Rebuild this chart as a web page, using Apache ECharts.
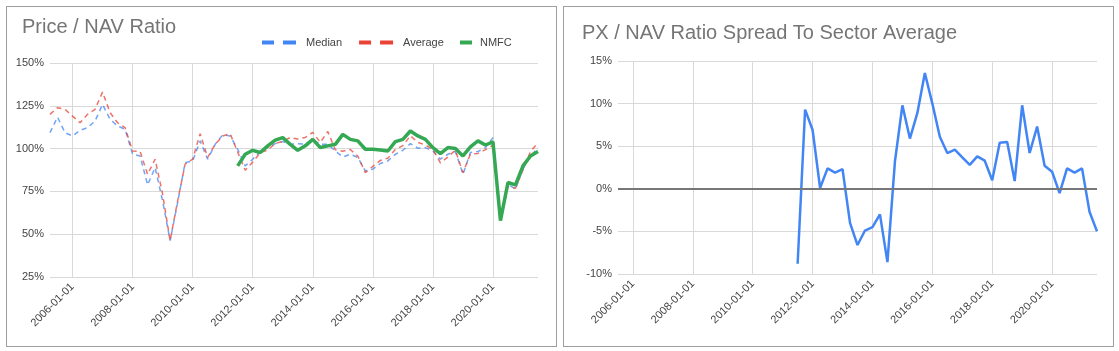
<!DOCTYPE html>
<html>
<head>
<meta charset="utf-8">
<script src="https://cdn.jsdelivr.net/npm/echarts@6/dist/echarts.min.js"></script>
<style>
  body { margin: 0; background: #fff; width: 1119px; height: 351px; overflow: hidden; }
  .panel { position: absolute; top: 6px; width: 551px; height: 341px; border: 1px solid #9e9e9e; box-sizing: border-box; }
  #leftPanel { left: 6px; }
  #rightPanel { left: 563px; }
  .chart { width: 549px; height: 339px; }
</style>
</head>
<body>
<div class="panel" id="leftPanel"><div class="chart" id="chartRatio"></div></div>
<div class="panel" id="rightPanel"><div class="chart" id="chartSpread"></div></div>
<script>
// quarterly dates
const dates = [
  '2005-04-01', '2005-07-01', '2005-10-01',
  '2006-01-01', '2006-04-01', '2006-07-01', '2006-10-01',
  '2007-01-01', '2007-04-01', '2007-07-01', '2007-10-01',
  '2008-01-01', '2008-04-01', '2008-07-01', '2008-10-01',
  '2009-01-01', '2009-04-01', '2009-07-01', '2009-10-01',
  '2010-01-01', '2010-04-01', '2010-07-01', '2010-10-01',
  '2011-01-01', '2011-04-01', '2011-07-01', '2011-10-01',
  '2012-01-01', '2012-04-01', '2012-07-01', '2012-10-01',
  '2013-01-01', '2013-04-01', '2013-07-01', '2013-10-01',
  '2014-01-01', '2014-04-01', '2014-07-01', '2014-10-01',
  '2015-01-01', '2015-04-01', '2015-07-01', '2015-10-01',
  '2016-01-01', '2016-04-01', '2016-07-01', '2016-10-01',
  '2017-01-01', '2017-04-01', '2017-07-01', '2017-10-01',
  '2018-01-01', '2018-04-01', '2018-07-01', '2018-10-01',
  '2019-01-01', '2019-04-01', '2019-07-01', '2019-10-01',
  '2020-01-01', '2020-04-01', '2020-07-01', '2020-10-01',
  '2021-01-01', '2021-04-01', '2021-07-01'
]
const tickLabels = ['2006-01-01', '2008-01-01', '2010-01-01', '2012-01-01', '2014-01-01', '2016-01-01', '2018-01-01', '2020-01-01']

// Price / NAV, in %
const median = [
  109.3, 118.4, 109.3,
  107.4, 110.7, 112.2, 116.1,
  125.8, 117.1, 113.2, 111.3,
  96.7, 95.7, 78.8, 88.9,
  69.5, 46.2, 68.5, 91.8,
  92.8, 104.5, 93.8, 102.5,
  108.0, 107.4, 99.6, 89.9,
  93.8, 98.3, 100.6, 102.9,
  104.1, 102.5, 102.9, 102.5,
  105.4, 102.5, 102.5, 98.6,
  95.1, 96.7, 94.8, 87.0,
  88.0, 91.3, 92.8, 96.7,
  99.0, 102.9, 100.2, 100.6,
  98.6, 93.8, 96.7, 98.3,
  85.0, 97.7, 98.3, 100.6,
  106.4, 58.5, 79.2, 76.3,
  88.0, 95.7, 100.6
]
const average = [
  120.0, 123.9, 122.9,
  119.0, 115.1, 120.0, 122.9,
  133.0, 121.0, 115.1, 112.2,
  98.6, 98.3, 85.0, 93.8,
  73.4, 46.2, 69.5, 90.9,
  93.8, 108.7, 94.8, 102.5,
  107.4, 108.7, 98.0, 87.4,
  92.1, 97.6, 99.2, 103.0,
  104.1, 106.5, 105.6, 106.5,
  109.5, 103.6, 110.0, 99.3,
  98.5, 99.5, 95.6, 86.0,
  89.6, 93.1, 94.4, 99.5,
  101.7, 107.5, 103.6, 102.1,
  99.5, 91.7, 95.1, 99.1,
  85.9, 96.8, 97.2, 99.4,
  101.9, 58.4, 77.8, 76.9,
  87.5, 98.4, 103.3
]
const nmfc = [
  null, null, null,
  null, null, null, null,
  null, null, null, null,
  null, null, null, null,
  null, null, null, null,
  null, null, null, null,
  null, null, 89.9, 96.7,
  99.0, 97.7, 101.6, 104.9,
  106.4, 102.5, 99.0, 101.6,
  105.4, 100.6, 101.6, 102.5,
  108.3, 105.4, 104.5, 99.6,
  99.6, 99.2, 98.6, 104.1,
  105.4, 110.3, 107.4, 105.4,
  100.6, 97.1, 100.6, 100.0,
  95.7, 101.0, 104.5, 102.1,
  103.9, 57.9, 80.2, 78.8,
  89.9, 95.7, 98.3
]

// spread chart starts one quarter later (2005-07-01)
const spreadDates = dates.slice(1)
const spread = [
  null, null,
  null, null, null, null,
  null, null, null, null,
  null, null, null, null,
  null, null, null, null,
  null, null, null, null,
  null, null, -8.8, 9.3,
  6.9, 0.1, 2.4, 1.9,
  2.3, -4.0, -6.6, -4.9,
  -4.5, -3.0, -8.6, 3.2,
  9.8, 5.9, 8.9, 13.6,
  10.0, 6.1, 4.2, 4.6,
  3.7, 2.8, 3.8, 3.3,
  1.0, 5.4, 5.5, 0.9,
  9.8, 4.2, 7.3, 2.7,
  2.0, -0.5, 2.4, 1.9,
  2.4, -2.7, -5.0
]

const fontFamily = 'Arial, "Liberation Sans", sans-serif'
const showTick = function (index, value) {
  return tickLabels.indexOf(value) !== -1
}

function xAxisFor (cats) {
  return {
    type: 'category',
    data: cats,
    boundaryGap: false,
    axisLine: { show: false },
    axisTick: { show: false },
    axisLabel: {
      interval: showTick,
      rotate: 45,
      margin: 8,
      color: '#444',
      fontSize: 11,
      fontFamily: fontFamily
    },
    splitLine: {
      show: true,
      interval: showTick,
      lineStyle: { color: '#d9d9d9', width: 1 }
    }
  }
}

function yAxisFor (min, max, step) {
  return {
    type: 'value',
    min: min,
    max: max,
    interval: step,
    axisLine: { show: false },
    axisTick: { show: false },
    axisLabel: {
      formatter: '{value}%',
      margin: 6,
      color: '#444',
      fontSize: 11,
      fontFamily: fontFamily
    },
    splitLine: { lineStyle: { color: '#d9d9d9', width: 1 } }
  }
}

const dashIcon = 'path://M0,0h12v4h-12z M21,0h13v4h-13z'

let chartRatio = echarts.init(document.getElementById('chartRatio'))
chartRatio.setOption({
  animation: false,
  title: {
    text: 'Price / NAV Ratio',
    left: 15,
    top: 10,
    padding: 0,
    textStyle: { color: '#757575', fontSize: 20, fontWeight: 'normal', fontFamily: fontFamily }
  },
  legend: [
    {
      data: [{ name: 'Median', icon: dashIcon }, { name: 'Average', icon: dashIcon }],
      left: 255,
      top: 30,
      padding: 0,
      itemWidth: 34,
      itemHeight: 4,
      itemGap: 17,
      itemStyle: { borderWidth: 0 },
      textStyle: { color: '#444', fontSize: 11, fontFamily: fontFamily, padding: [0, 0, 0, 5] }
    },
    {
      data: [{ name: 'NMFC', icon: 'rect' }],
      left: 453,
      top: 30,
      padding: 0,
      itemWidth: 12,
      itemHeight: 4,
      itemStyle: { borderWidth: 0 },
      textStyle: { color: '#444', fontSize: 11, fontFamily: fontFamily, padding: [0, 0, 0, 3] }
    }
  ],
  grid: { left: 43, right: 18, top: 56, bottom: 69 },
  xAxis: xAxisFor(dates),
  yAxis: yAxisFor(25, 150, 25),
  series: [
    {
      name: 'Median',
      type: 'line',
      data: median,
      symbol: 'none',
      color: '#4285f4',
      lineStyle: { width: 1.5, type: [5, 4], opacity: 0.75 }
    },
    {
      name: 'Average',
      type: 'line',
      data: average,
      symbol: 'none',
      color: '#ea4335',
      lineStyle: { width: 1.5, type: [5, 4], opacity: 0.75 }
    },
    {
      name: 'NMFC',
      type: 'line',
      data: nmfc,
      symbol: 'none',
      color: '#34a853',
      lineStyle: { width: 3.5 }
    }
  ]
})

let chartSpread = echarts.init(document.getElementById('chartSpread'))
chartSpread.setOption({
  animation: false,
  title: {
    text: 'PX / NAV Ratio Spread To Sector Average',
    left: 18,
    top: 16,
    padding: 0,
    textStyle: { color: '#757575', fontSize: 20, fontWeight: 'normal', fontFamily: fontFamily }
  },
  grid: { left: 54, right: 16, top: 54, bottom: 72 },
  xAxis: xAxisFor(spreadDates),
  yAxis: yAxisFor(-10, 15, 5),
  series: [
    {
      name: 'Spread',
      type: 'line',
      data: spread,
      symbol: 'none',
      color: '#4285f4',
      lineStyle: { width: 2.5 },
      markLine: {
        silent: true,
        symbol: 'none',
        label: { show: false },
        lineStyle: { color: '#777', width: 2, type: 'solid' },
        data: [{ yAxis: 0 }]
      }
    }
  ]
})
</script>
</body>
</html>
